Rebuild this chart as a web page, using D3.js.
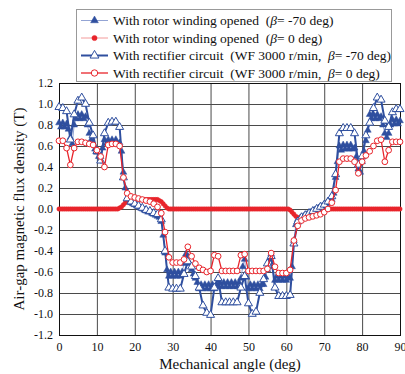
<!DOCTYPE html>
<html>
<head>
<meta charset="utf-8">
<script src="https://cdn.jsdelivr.net/npm/d3@7"></script>
<style>
body { margin: 0; background: #fff; }
svg { display: block; font-family: "Liberation Serif", "Times New Roman", serif; }
</style>
</head>
<body>
<svg id="chart" width="405" height="374"></svg>
<script>
// Sampling grids of the measured curves (mechanical angle, deg).
const angleCoarse = d3.range(0, 90.5, 1);
const angleFine = d3.range(0, 90.25, 0.5);

// With rotor winding opened, beta = -70 deg (0.5 deg step)
const rotorBetaM70 = [
  0.82, 0.78, 0.82, 0.78, 0.81, 0.76, 0.68, 0.62, 0.80, 0.86,
  0.90, 0.86, 0.90, 0.86, 0.88, 0.80, 0.72, 0.66, 0.62, 0.57,
  0.54, 0.50, 0.50, 0.58, 0.66, 0.62, 0.66, 0.62, 0.66, 0.62,
  0.66, 0.62, 0.63, 0.55, 0.35, 0.20, 0.10, 0.08, 0.06, 0.05,
  0.04, 0.03, 0.02, 0.01, 0.00, -0.01, -0.02, -0.03, -0.03, -0.04,
  -0.05, -0.06, -0.07, -0.08, -0.12, -0.25, -0.42, -0.58, -0.64, -0.60,
  -0.64, -0.60, -0.64, -0.60, -0.64, -0.60, -0.52, -0.43, -0.45, -0.52,
  -0.58, -0.62, -0.66, -0.70, -0.76, -0.72, -0.76, -0.72, -0.76, -0.72,
  -0.76, -0.72, -0.76, -0.72, -0.74, -0.70, -0.74, -0.70, -0.74, -0.70,
  -0.74, -0.70, -0.74, -0.70, -0.74, -0.70, -0.66, -0.55, -0.48, -0.65,
  -0.76, -0.72, -0.76, -0.72, -0.76, -0.72, -0.76, -0.72, -0.72, -0.65,
  -0.58, -0.48, -0.43, -0.55, -0.68, -0.64, -0.68, -0.64, -0.68, -0.64,
  -0.68, -0.64, -0.66, -0.55, -0.30, -0.15, -0.10, -0.09, -0.08, -0.07,
  -0.06, -0.05, -0.04, -0.03, -0.02, -0.01, 0.00, 0.01, 0.02, 0.03,
  0.04, 0.05, 0.06, 0.07, 0.09, 0.15, 0.30, 0.45, 0.60, 0.56,
  0.61, 0.57, 0.61, 0.57, 0.61, 0.57, 0.58, 0.50, 0.38, 0.35,
  0.45, 0.55, 0.65, 0.75, 0.90, 0.86, 0.90, 0.86, 0.90, 0.86,
  0.88, 0.80, 0.72, 0.68, 0.72, 0.80, 0.85, 0.81, 0.85, 0.81,
  0.84
];

// With rotor winding opened, beta = 0 deg (0.5 deg step)
const rotorBeta0 = [
  0, 0, 0, 0, 0, 0, 0, 0, 0, 0,
  0, 0, 0, 0, 0, 0, 0, 0, 0, 0,
  0, 0, 0, 0, 0, 0, 0, 0, 0, 0,
  0, 0, 0.01, 0.02, 0.04, 0.06, 0.07, 0.08, 0.09, 0.09,
  0.09, 0.09, 0.09, 0.09, 0.09, 0.09, 0.09, 0.09, 0.09, 0.09,
  0.09, 0.09, 0.09, 0.08, 0.07, 0.05, 0.03, 0.01, 0, 0,
  0, 0, 0, 0, 0, 0, 0, 0, 0, 0,
  0, 0, 0, 0, 0, 0, 0, 0, 0, 0,
  0, 0, 0, 0, 0, 0, 0, 0, 0, 0,
  0, 0, 0, 0, 0, 0, 0, 0, 0, 0,
  0, 0, 0, 0, 0, 0, 0, 0, 0, 0,
  0, 0, 0, 0, 0, 0, 0, 0, 0, 0,
  0, 0, -0.01, -0.03, -0.05, -0.07, -0.08, -0.09, -0.09, -0.09,
  -0.09, -0.08, -0.07, -0.06, -0.05, -0.04, -0.04, -0.03, -0.02, -0.02,
  -0.01, -0.01, 0, 0, 0, 0, 0, 0, 0, 0,
  0, 0, 0, 0, 0, 0, 0, 0, 0, 0,
  0, 0, 0, 0, 0, 0, 0, 0, 0, 0,
  0, 0, 0, 0, 0, 0, 0, 0, 0, 0,
  0
];

// With rectifier circuit (WF 3000 r/min), beta = -70 deg (1 deg step)
const rectBetaM70 = [
  0.97, 0.96, 0.93, 0.66, 0.90, 1.03, 1.06, 1.00, 0.82, 0.70,
  0.55, 0.46, 0.72, 0.82, 0.83, 0.83, 0.78, 0.30, 0.10, 0.07,
  0.05, 0.03, 0.01, -0.01, -0.02, -0.04, -0.05, -0.10, -0.40, -0.75,
  -0.76, -0.76, -0.76, -0.62, -0.50, -0.55, -0.64, -0.75, -0.92, -0.99,
  -1.01, -0.75, -0.66, -0.89, -0.89, -0.89, -0.89, -0.89, -0.75, -0.64,
  -0.90, -1.00, -0.98, -0.80, -0.67, -0.52, -0.45, -0.75, -0.83, -0.83,
  -0.83, -0.82, -0.33, -0.12, -0.08, -0.06, -0.04, -0.02, 0.00, 0.02,
  0.04, 0.07, 0.12, 0.33, 0.72, 0.77, 0.77, 0.77, 0.72, 0.42,
  0.50, 0.70, 0.82, 0.96, 1.06, 1.04, 0.84, 0.78, 0.92, 0.95,
  0.95
];

// With rectifier circuit (WF 3000 r/min), beta = 0 deg (1 deg step)
const rectBeta0 = [
  0.65, 0.65, 0.58, 0.42, 0.58, 0.64, 0.64, 0.63, 0.62, 0.61,
  0.56, 0.50, 0.40, 0.61, 0.62, 0.62, 0.60, 0.30, 0.15, 0.12,
  0.11, 0.10, 0.09, 0.08, 0.07, 0.05, 0.02, -0.04, -0.22, -0.46,
  -0.51, -0.51, -0.51, -0.48, -0.36, -0.45, -0.52, -0.56, -0.58, -0.60,
  -0.59, -0.44, -0.45, -0.59, -0.59, -0.59, -0.59, -0.59, -0.44, -0.43,
  -0.59, -0.59, -0.59, -0.59, -0.59, -0.57, -0.42, -0.55, -0.61, -0.61,
  -0.61, -0.58, -0.30, -0.16, -0.11, -0.09, -0.08, -0.07, -0.06, -0.05,
  -0.03, 0.00, 0.06, 0.18, 0.45, 0.48, 0.48, 0.48, 0.45, 0.34,
  0.45, 0.51, 0.55, 0.60, 0.65, 0.66, 0.45, 0.56, 0.64, 0.64,
  0.64
];

const xTicks = [0, 10, 20, 30, 40, 50, 60, 70, 80, 90];
const yTicks = [-1.2, -1.0, -0.8, -0.6, -0.4, -0.2, 0.0, 0.2, 0.4, 0.6, 0.8, 1.0, 1.2];

// Legend text: [before beta, after beta]
const legendLabels = [
  ["With rotor winding opened  (", "= -70 deg)"],
  ["With rotor winding opened  (", "= 0 deg)"],
  ["With rectifier circuit  (WF 3000 r/min,  ", "= -70 deg)"],
  ["With rectifier circuit  (WF 3000 r/min,  ", "= 0 deg)"]
];

const xTitle = "Mechanical angle (deg)";
const yTitle = "Air-gap magnetic flux density (T)";

const blue = "#2f4f9f";
const red = "#e8242b";

const series = [
  { angles: angleFine, values: rotorBetaM70, color: blue, line: "#93a4d4", lineWidth: 1, symbol: d3.symbolTriangle, size: 20, filled: true },
  { angles: angleFine, values: rotorBeta0, color: red, line: "#f39a9a", lineWidth: 1, symbol: d3.symbolCircle, size: 15, filled: true },
  { angles: angleCoarse, values: rectBetaM70, color: blue, line: blue, lineWidth: 2, symbol: d3.symbolTriangle, size: 28, filled: false },
  { angles: angleCoarse, values: rectBeta0, color: red, line: red, lineWidth: 1.3, symbol: d3.symbolCircle, size: 26, filled: false }
];

function draw() {
    const svg = d3.select("#chart");
    const m = { left: 59, right: 400, top: 83, bottom: 335 };

    const x = d3.scaleLinear().domain([0, 90]).range([m.left, m.right]);
    const y = d3.scaleLinear().domain([-1.2, 1.2]).range([m.bottom, m.top]);

    // Axes with full-length ticks used as the grid
    const gx = svg.append("g")
        .attr("transform", `translate(0,${m.bottom})`)
        .call(d3.axisBottom(x).tickValues(xTicks).tickSize(-(m.bottom - m.top)).tickPadding(7.5).tickFormat(d => d));
    const gy = svg.append("g")
        .attr("transform", `translate(${m.left},0)`)
        .call(d3.axisLeft(y).tickValues(yTicks).tickSize(-(m.right - m.left)).tickPadding(6).tickFormat(d => d.toFixed(1)));

    [gx, gy].forEach(g => {
        g.select(".domain").remove();
        g.selectAll(".tick line").attr("stroke", "#4a4a4a").attr("stroke-width", 1);
        g.selectAll(".tick text")
            .attr("fill", "#111")
            .attr("font-size", 12)
            .attr("font-family", "Liberation Serif, serif");
    });

    // plot frame
    svg.append("rect")
        .attr("x", m.left + 0.5).attr("y", m.top + 0.5)
        .attr("width", m.right - m.left).attr("height", m.bottom - m.top)
        .attr("fill", "none").attr("stroke", "#111").attr("stroke-width", 1);

    // series: line + markers
    series.forEach(s => {
        const pts = s.angles.map((a, i) => [a, s.values[i]]);
        svg.append("path")
            .datum(pts)
            .attr("fill", "none")
            .attr("stroke", s.line)
            .attr("stroke-width", s.lineWidth)
            .attr("d", d3.line().x(d => x(d[0])).y(d => y(d[1])));
        svg.append("g").selectAll("path")
            .data(pts)
            .join("path")
            .attr("transform", d => `translate(${x(d[0])},${y(d[1])})`)
            .attr("d", d3.symbol().type(s.symbol).size(s.size))
            .attr("fill", s.filled ? s.color : "#fff")
            .attr("stroke", s.color)
            .attr("stroke-width", s.filled ? 0.5 : 1);
    });

    // axis titles
    svg.append("text")
        .attr("x", 230).attr("y", 369)
        .attr("text-anchor", "middle")
        .attr("font-size", 15)
        .attr("fill", "#111")
        .text(xTitle);
    svg.append("text")
        .attr("transform", "translate(24,209) rotate(-90)")
        .attr("text-anchor", "middle")
        .attr("font-size", 15)
        .attr("fill", "#111")
        .text(yTitle);

    // legend
    const legend = svg.append("g");
    legend.append("rect")
        .attr("x", 76.5).attr("y", 9.5)
        .attr("width", 315).attr("height", 72)
        .attr("fill", "#fff").attr("stroke", "#999");

    const rowY = [20.5, 38, 55.5, 73];
    series.forEach((s, i) => {
        const row = legend.append("g").attr("transform", `translate(0,${rowY[i]})`);
        row.append("line")
            .attr("x1", 81).attr("x2", 108)
            .attr("stroke", s.line).attr("stroke-width", s.lineWidth);
        row.append("path")
            .attr("transform", "translate(94.5,0)")
            .attr("d", d3.symbol().type(s.symbol).size(s.size + 6))
            .attr("fill", s.filled ? s.color : "#fff")
            .attr("stroke", s.color)
            .attr("stroke-width", s.filled ? 0.5 : 1);
        const t = row.append("text")
            .attr("x", 113).attr("y", 4.5)
            .attr("font-size", 13.5)
            .attr("fill", "#111")
            .attr("xml:space", "preserve")
            .style("white-space", "pre");
        t.append("tspan").text(legendLabels[i][0]);
        t.append("tspan").attr("font-style", "italic").text("β");
        t.append("tspan").text(legendLabels[i][1]);
    });
}

draw();
</script>
</body>
</html>
